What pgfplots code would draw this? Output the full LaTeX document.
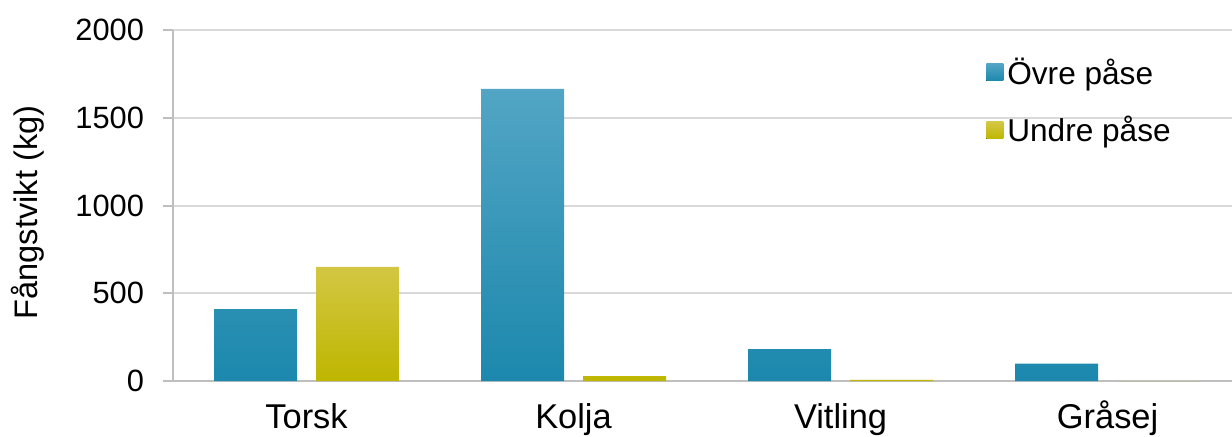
\documentclass[border=0pt]{standalone}
\usepackage{pgfplots}
\pgfplotsset{compat=1.18}
\usepackage{fontspec}
\setmainfont{Liberation Sans}
\definecolor{bluetop}{HTML}{52A5C4}
\definecolor{bluebot}{HTML}{1C88AD}
\definecolor{yeltop}{HTML}{D3C743}
\definecolor{yelbot}{HTML}{BEB600}
\definecolor{gridc}{HTML}{D9D9D9}
\definecolor{axisc}{HTML}{BFBFBF}
\begin{document}
\begin{tikzpicture}
\useasboundingbox (-86.5pt,-27.5pt) rectangle (529.5pt,190.5pt);
\begin{axis}[
  scale only axis,
  width=529.5pt, height=175.5pt,
  font=\fontsize{15.4}{18}\selectfont,
  xmin=-0.5, xmax=3.466,
  ymin=0, ymax=2000,
  ytick={0,500,1000,1500,2000},
  xtick={0,1,2,3},
  xticklabels={Torsk,Kolja,Vitling,Gråsej},
  /pgf/number format/assume math mode=true,
  scaled y ticks=false,
  yticklabel style={/pgf/number format/1000 sep={}, xshift=-6pt},
  ymajorgrids,
  grid style={gridc, line width=1pt},
  axis x line*=bottom,
  axis y line*=left,
  axis line style={axisc, line width=1pt},
  y axis line style={axisc},
  xtick style={draw=none},
  ytick style={axisc, line width=1pt},
  tick align=outside,
  major tick length=5pt,
  xticklabel style={yshift=-1pt, text height=14pt, text depth=4pt, font=\fontsize{17.2}{20}\selectfont},
  ylabel={Fångstvikt (kg)},
  every axis y label/.style={at={(rel axis cs:0,0.48)}, xshift=-72.5pt, rotate=90, anchor=center, font=\fontsize{16.3}{19}\selectfont},
  ybar=9.5pt,
  bar width=41.5pt,
  legend style={draw=none, fill=none, at={(rel axis cs:0.762,0.945)}, anchor=north west,
    row sep=10.5pt, font=\fontsize{15.8}{18}\selectfont},
  legend cell align=left,
  legend image code/.code={\fill[#1] (0pt,-4.25pt) rectangle (8.5pt,4.25pt);},
]
\addplot[draw=none, top color=bluetop, bottom color=bluebot] coordinates {(0,410) (1,1664) (2,182) (3,99)};
\addplot[draw=none, top color=yeltop, bottom color=yelbot] coordinates {(0,650) (1,28) (2,6) (3,0)};
\legend{Övre påse, Undre påse}
\end{axis}
\end{tikzpicture}
\end{document}
